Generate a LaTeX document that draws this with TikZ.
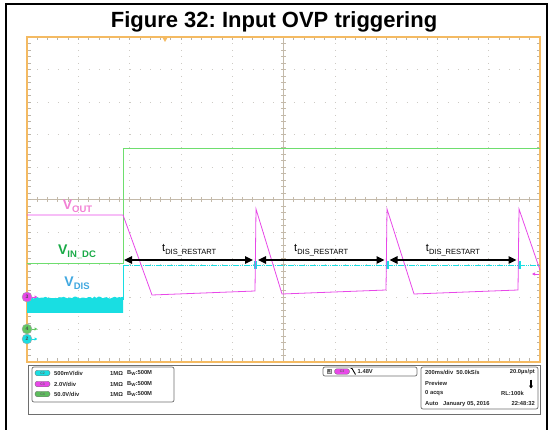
\documentclass[tikz,border=0pt]{standalone}
\usepackage{fontspec}
\setmainfont{Liberation Sans}
\usetikzlibrary{arrows.meta}
\frenchspacing
\definecolor{scopeorange}{RGB}{244,186,98}
\definecolor{gridgray}{RGB}{185,180,170}
\definecolor{dotgray}{RGB}{205,202,196}
\definecolor{axisgray}{RGB}{196,186,170}
\definecolor{vingreen}{RGB}{110,222,110}
\definecolor{vinlabel}{RGB}{25,170,70}
\definecolor{voutmag}{RGB}{232,72,232}
\definecolor{voutlabel}{RGB}{242,128,212}
\definecolor{vdiscyan}{RGB}{25,222,226}
\definecolor{vdislabel}{RGB}{64,168,224}
\definecolor{panelgray}{RGB}{110,110,110}
\newcommand{\vsig}[1]{V\raisebox{-0.45ex}{\fontsize{9.5}{10}\selectfont #1}}
\newcommand{\tdis}{t\raisebox{-0.45ex}{\fontsize{7.5}{8}\selectfont DIS\_RESTART}}

\begin{document}
\begin{tikzpicture}[x=1pt,y=-1pt,
  sig/.style={font=\fontsize{14}{14}\selectfont\bfseries},
  dimarrow/.style={{Triangle[length=8pt,width=7.5pt]}-{Triangle[length=8pt,width=7.5pt]}, line width=1.5pt, shorten >=2.5pt, shorten <=2.5pt},
  chmark/.style={circle, draw=black!35, inner sep=0pt, minimum size=10pt, font=\fontsize{5}{5}\selectfont\bfseries, text=black!70},
  pill/.style={rounded corners=2.5pt, draw=black!55, minimum width=15pt, minimum height=5.5pt, inner sep=0pt, font=\fontsize{3.5}{4}\selectfont\bfseries, text=black!60},
  paneltext/.style={inner sep=0pt, font=\fontsize{5.8}{6}\selectfont\bfseries, text=black!85},
  panelbox/.style={draw=panelgray, line width=0.7pt, rounded corners=2pt}]
\useasboundingbox (0,0) rectangle (549,430);
\draw[line width=2pt] (5.5,432) -- (5.5,4) -- (546.5,4) -- (546.5,432);
\node[font=\fontsize{22}{22}\selectfont\bfseries] (title) at (274,22) {Figure 32: Input OVP triggering};

\foreach \i in {1,2,3,4,6,7,8,9} {
  \draw[dotgray, line width=0.6pt, dash pattern=on 0.6pt off 5.9pt] ({27+\i*51.3},37) -- ({27+\i*51.3},362);
  \draw[dotgray, line width=0.6pt, dash pattern=on 0.6pt off 9.66pt] (27,{37+\i*32.5}) -- (540,{37+\i*32.5});
}
\draw[axisgray, line width=0.9pt] (283.5,37) -- (283.5,362);
\draw[axisgray, line width=0.9pt] (27,199.5) -- (540,199.5);
\foreach \j in {1,...,49} {
  \draw[axisgray, line width=0.6pt] (281,{37+\j*6.5}) -- (286,{37+\j*6.5});
  \draw[axisgray, line width=0.6pt] ({27+\j*10.26},197) -- ({27+\j*10.26},202);
  \draw[gridgray, line width=0.6pt] (27,{37+\j*6.5}) -- (30.5,{37+\j*6.5});
  \draw[gridgray, line width=0.6pt] (540,{37+\j*6.5}) -- (536.5,{37+\j*6.5});
  \draw[gridgray, line width=0.6pt] ({27+\j*10.26},37) -- ({27+\j*10.26},40.5);
  \draw[gridgray, line width=0.6pt] ({27+\j*10.26},362) -- ({27+\j*10.26},358.5);
}
\draw[scopeorange, line width=2pt] (27,37) rectangle (540,362);
\fill[scopeorange] (162,37) -- (168,37) -- (165,42) -- cycle;

\draw[vingreen, line width=0.9pt] (27,263) -- (123,263) -- (123,148) -- (540,148);

\pgfmathsetseed{7}
\fill[vdiscyan] (27,313) -- plot[domain=27:123,samples=48] (\x,{297.5+0.9*rand}) -- (123,313) -- cycle;
\draw[vdiscyan, line width=0.8pt] (123,300) -- (123,266);
\draw[vdiscyan, line width=1pt, dash pattern=on 1.5pt off 0.7pt] (123,266) -- (540,266);
\foreach \p in {255.5,387,519}
  \fill[vdiscyan] ({\p-1.5},261) rectangle ({\p+1.5},269);

\draw[voutmag, line width=0.8pt] (27,215) -- (123,215) -- (152,295) -- (255,291) -- (256,209) -- (282,294) -- (386,290) -- (387,209) -- (414,294) -- (518,290) -- (519,209) -- (540,270);
\draw[voutmag, line width=0.9pt, -{Triangle[length=3pt,width=3pt]}] (539,274) -- (532,274);

\node[sig, text=voutlabel] (vout) at (77.5,206) {\vsig{OUT}};
\node[sig, text=vinlabel] (vindc) at (77,252) {\vsig{IN\_DC}};
\node[sig, text=vdislabel] (vdis) at (77,283) {\vsig{DIS}};

\coordinate (e0) at (123,260);
\coordinate (e1) at (255.5,260);
\coordinate (e2) at (387,260);
\coordinate (e3) at (519,260);
\draw[dimarrow, shorten <=1pt] (e0) -- (e1) node[midway, yshift=10pt, font=\fontsize{11}{11}\selectfont] (td1) {\tdis};
\draw[dimarrow] (e1) -- (e2) node[midway, yshift=10pt, font=\fontsize{11}{11}\selectfont] (td2) {\tdis};
\draw[dimarrow] (e2) -- (e3) node[midway, yshift=10pt, font=\fontsize{11}{11}\selectfont] (td3) {\tdis};

\node[chmark, fill=voutmag] (m3) at (27,297) {3};
\node[chmark, fill=vingreen!90!black] (m4) at (27,329) {4};
\node[chmark, fill=vdiscyan] (m2) at (27,339) {2};
\draw[voutmag, line width=0.8pt, -{Triangle[length=2.5pt,width=3pt]}] (m3.east) -- ++(5,0);
\draw[vingreen!90!black, line width=0.8pt, -{Triangle[length=2.5pt,width=3pt]}] (m4.east) -- ++(5,0);
\draw[vdiscyan, line width=0.8pt, -{Triangle[length=2.5pt,width=3pt]}] (m2.east) -- ++(5,0);

\draw[panelgray, line width=0.8pt] (28,365) rectangle (540,414);
\draw[panelbox] (32,367) rectangle (174,402);
\node[pill, fill=vdiscyan] (c2) at (42.5,373) {C2};
\node[pill, fill=voutmag] (c3) at (42.5,384) {C3};
\node[pill, fill=vingreen!85!black] (c4) at (42.5,394) {C4};
\node[paneltext, anchor=west] (s2) at (54,373) {500mV/div};
\node[paneltext, anchor=west] (s3) at (54,384) {2.0V/div};
\node[paneltext, anchor=west] (s4) at (54,394) {50.0V/div};
\foreach \r in {373,384,394} {
  \node[paneltext, anchor=west] at (110,\r) {1MΩ};
  \node[paneltext, anchor=west] at (127,\r) {B\raisebox{-0.4ex}{\fontsize{4.5}{5}\selectfont W}:500M};
}

\draw[panelbox] (323,367) rectangle (417,376);
\node[paneltext, fill=black!25, draw=black!50, inner sep=0.8pt, font=\fontsize{4}{4}\selectfont\bfseries] (trA) at (329,371.5) {A};
\node[pill, fill=voutmag] (trc3) at (342,371.5) {C3};
\draw[black, line width=0.9pt] (350.5,368.5) -- (352,368.5) -- (355.5,374.5);
\node[paneltext, anchor=west] (trlvl) at (357.5,371.5) {1.48V};

\draw[panelbox] (421,367) rectangle (538,409);
\node[paneltext, anchor=west] (tb1) at (425,372.5) {200ms/div\ \ 50.0kS/s};
\node[paneltext, anchor=east] (tb2) at (535,372.5) {20.0µs/pt};
\node[paneltext, anchor=west] (tb3) at (425,383) {Preview};
\draw[black, line width=1.2pt, -{Triangle[length=3pt,width=4pt]}] (531,379.5) -- (531,388.5);
\node[paneltext, anchor=west] (tb4) at (425,393.5) {0 acqs};
\node[paneltext, anchor=east] (tb5) at (524,393.5) {RL:100k};
\node[paneltext, anchor=west] (tb6) at (425,404) {Auto};
\node[paneltext, anchor=west] (tb7) at (443,404) {January 05, 2016};
\node[paneltext, anchor=east] (tb8) at (535,404) {22:48:32};
\end{tikzpicture}
\end{document}
